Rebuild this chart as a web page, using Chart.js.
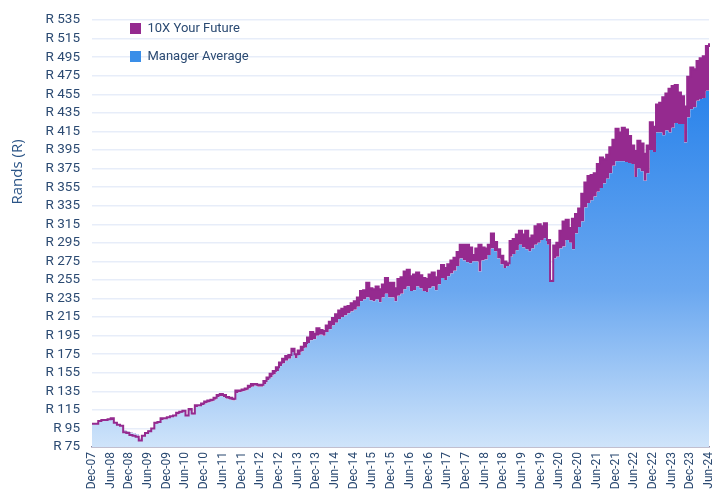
<!DOCTYPE html>
<html>
<head>
<meta charset="utf-8">
<script src="https://cdn.jsdelivr.net/npm/chart.js@4/dist/chart.umd.min.js"></script>
<style>
  html, body { margin: 0; padding: 0; background: #fff; }
  canvas { display: block; }
</style>
</head>
<body>
<canvas id="growthChart" width="721" height="498"></canvas>
<script>
// Growth of R100, monthly from Dec-07 to Jun-24
const startYear = 2007;
const startMonth = 11; // December
const monthNames = ['Jan', 'Feb', 'Mar', 'Apr', 'May', 'Jun', 'Jul', 'Aug', 'Sep', 'Oct', 'Nov', 'Dec'];
const tickMonths = ['Jun', 'Dec'];

const seriesNames = ['10X Your Future', 'Manager Average'];

const tenXValues = [
    100, 100, 103, 104, 104, 105, 106, 101, 99, 98,
    91, 90, 88, 87, 86, 82, 87, 90, 92, 95,
    101, 102, 106, 106, 107, 108, 109, 112, 113, 114,
    109, 116, 111, 120, 120, 122, 124, 125, 126, 128,
    131, 132, 131, 129, 128, 127, 136, 136, 137, 138,
    141, 143, 143, 142, 142, 146, 150, 154, 157, 161,
    166, 170, 173, 174, 181, 175, 179, 183, 187, 193,
    199, 197, 203, 201, 200, 206, 210, 214, 218, 222,
    224, 226, 227, 230, 232, 236, 243, 244, 252, 246,
    245, 248, 245, 250, 257, 252, 252, 246, 256, 258,
    264, 266, 259, 261, 263, 260, 257, 256, 261, 263,
    258, 265, 271, 268, 272, 276, 279, 285, 293, 293,
    293, 290, 282, 289, 293, 290, 289, 293, 305, 296,
    288, 281, 275, 273, 297, 299, 304, 308, 304, 308,
    300, 303, 313, 315, 313, 316, 298, 254, 292, 295,
    308, 318, 320, 311, 321, 326, 332, 348, 360, 367,
    368, 370, 380, 387, 385, 390, 398, 406, 418, 414,
    419, 417, 410, 400, 394, 405, 402, 391, 400, 425,
    420, 444, 446, 452, 456, 461, 464, 465, 457, 453,
    442, 474, 484, 482, 491, 494, 496, 507, 510
];

const managerValues = [
    100, 100, 102, 103, 103, 104, 104, 101, 99, 98,
    93, 92, 91, 90, 89, 84, 88, 91, 93, 95,
    100, 101, 104, 105, 106, 107, 108, 110, 112, 113,
    108, 114, 110, 118, 119, 120, 122, 123, 124, 126,
    129, 130, 129, 127, 126, 125, 133, 134, 135, 136,
    138, 140, 141, 140, 140, 143, 147, 150, 153, 157,
    162, 165, 168, 170, 177, 171, 174, 178, 182, 187,
    190, 191, 195, 196, 195, 199, 202, 206, 209, 213,
    215, 217, 219, 221, 223, 226, 232, 234, 236, 233,
    232, 234, 231, 236, 240, 236, 236, 232, 238, 240,
    245, 248, 243, 244, 248, 246, 243, 242, 246, 248,
    244, 250, 257, 255, 259, 262, 265, 270, 278, 276,
    274, 273, 275, 275, 264, 276, 277, 282, 289, 286,
    278, 272, 268, 270, 280, 283, 287, 293, 290, 288,
    286, 289, 293, 295, 298, 300, 293, 254, 278, 280,
    289, 291, 298, 295, 288, 305, 312, 318, 333, 338,
    341, 345, 350, 354, 359, 364, 370, 378, 383, 383,
    383, 382, 381, 380, 366, 375, 372, 362, 370, 395,
    393, 414, 414, 411, 416, 414, 419, 424, 423, 423,
    403, 430, 439, 441, 448, 450, 451, 459, 468
];

// y axis
const yMin = 75;
const yMax = 535;
const yStep = 20;

const purple = '#952a8f';
const blue = '#3a8ee8';
const textColor = '#2b4a72';

// month labels like Dec-07, Jan-08 ...
const monthLabels = [];
for (let i = 0; i < tenXValues.length; i++) {
    const m = (startMonth + i) % 12;
    const y = startYear + Math.floor((startMonth + i) / 12);
    monthLabels.push(monthNames[m] + '-' + String(y).slice(2));
}

function managerFill(context) {
    const chart = context.chart;
    const area = chart.chartArea;
    if (!area) {
        return blue;
    }
    const g = chart.ctx.createLinearGradient(0, area.bottom, 0, area.top + 80);
    g.addColorStop(0, '#cfe4fa');
    g.addColorStop(0.45, '#6ba8f0');
    g.addColorStop(1, '#2d85eb');
    return g;
}

// legend sits inside the plot, top left
const legendPlacer = {
    id: 'legendPlacer',
    afterLayout(chart) {
        const lg = chart.legend;
        lg.left = 115;
        lg.top = 7;
        lg.right = lg.left + lg.width;
        lg.bottom = lg.top + 80;
    }
};

// y axis title, placed like the original
const yTitle = {
    id: 'yTitle',
    afterDraw(chart) {
        const ctx = chart.ctx;
        ctx.save();
        ctx.translate(18, 172);
        ctx.rotate(-Math.PI / 2);
        ctx.font = '15px "Open Sans"';
        ctx.fillStyle = '#2c5587';
        ctx.textAlign = 'center';
        ctx.textBaseline = 'middle';
        ctx.fillText('Rands (R)', 0, 0);
        ctx.restore();
    }
};

const ctx = document.getElementById('growthChart').getContext('2d');

new Chart(ctx, {
    type: 'line',
    data: {
        labels: monthLabels,
        datasets: [{
            label: seriesNames[0],
            data: tenXValues,
            borderColor: purple,
            backgroundColor: purple,
            borderWidth: 2,
            pointRadius: 0,
            stepped: true,
            fill: { target: 1, above: purple, below: 'rgba(0,0,0,0)' }
        }, {
            label: seriesNames[1],
            data: managerValues,
            borderColor: 'rgba(0,0,0,0)',
            backgroundColor: managerFill,
            borderWidth: 0,
            pointRadius: 0,
            stepped: true,
            fill: 'origin'
        }]
    },
    options: {
        responsive: false,
        animation: false,
        devicePixelRatio: 1,
        layout: {
            padding: { top: 17, right: 12, bottom: 0, left: 0 }
        },
        plugins: {
            tooltip: { enabled: false },
            legend: {
                position: 'chartArea',
                align: 'start',
                labels: {
                    boxWidth: 11,
                    boxHeight: 11,
                    padding: 15,
                    color: textColor,
                    font: { family: 'Roboto', size: 13 },
                    generateLabels(chart) {
                        const items = Chart.defaults.plugins.legend.labels.generateLabels(chart);
                        const colors = [purple, blue];
                        items.forEach((item, i) => {
                            item.fillStyle = colors[i];
                            item.strokeStyle = colors[i];
                            item.lineWidth = 0;
                        });
                        return items;
                    }
                }
            }
        },
        scales: {
            x: {
                type: 'category',
                offset: false,
                grid: { display: false, drawTicks: false },
                border: { display: true, color: '#8f8aa3', width: 1.5 },
                ticks: {
                    autoSkip: false,
                    maxRotation: 90,
                    minRotation: 90,
                    padding: 5,
                    color: textColor,
                    font: { family: 'Roboto', size: 12 },
                    callback: function(value) {
                        const lab = this.getLabelForValue(value);
                        return tickMonths.includes(lab.slice(0, 3)) ? lab : '';
                    }
                },
                afterFit(scale) {
                    scale.height = 51;
                    scale.paddingRight = 0;
                }
            },
            y: {
                min: yMin,
                max: yMax,
                grid: { color: '#e7edf9', lineWidth: 1.5, drawTicks: false },
                border: { display: false },
                ticks: {
                    stepSize: yStep,
                    autoSkip: false,
                    padding: 12,
                    color: textColor,
                    font: { family: 'Roboto', size: 13.5 },
                    callback: (v) => 'R ' + v
                },
                afterFit(scale) {
                    scale.width = 92;
                }
            }
        }
    },
    plugins: [legendPlacer, yTitle]
});
</script>
</body>
</html>
